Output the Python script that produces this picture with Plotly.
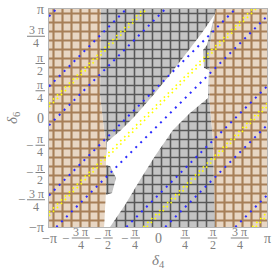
import numpy as np
import plotly.graph_objects as go

PI = np.pi

# ---- regions (radians) ----
brown_left_bx = [-1.643, -1.671, -1.556, -1.499, -1.499, -1.556]
brown_left_by = [PI, 0.663, -0.346, -0.692, -2.075, -PI]
brown_right_bx = [1.671, 1.499, 1.484, 1.585, 1.643]
brown_right_by = [PI, 2.104, 0.519, -0.634, -PI]

white_x = [1.643, 1.259, 0.778, 0.297, -0.135, -0.663, -1.095, -1.470, -1.513,
           -1.383, -1.210, -1.326, -1.513, -1.556, -1.383, -0.951, -0.519, -0.086,
           0.432, 0.922, 1.441, 1.470, 1.326, 1.297, 1.412, 1.643]
white_y = [2.997, 2.441, 1.816, 1.190, 0.663, 0.058, -0.375, -0.692, -1.354,
           -1.383, -1.729, -2.161, -2.219, -PI, -PI, -2.507, -1.787, -1.095,
           -0.346, 0.144, 0.576, 1.383, 1.441, 1.960, 2.104, 2.997]

# contour lines  delta6 = delta4 + c
blue_c = [-5.37, -3.35, -2.23, -0.21, 0.91, 2.93, 4.05, 6.07]
yellow_c = [-5.91, -2.77, 0.37, 3.51]

# ---- ticks ----
tick_vals = [-PI, -3*PI/4, -PI/2, -PI/4, 0, PI/4, PI/2, 3*PI/4, PI]
tick_sign = ["−", "−", "−", "−", "", "", "", "", ""]
tick_num = ["π", "3 π", "π", "π", "0", "π", "π", "3 π", "π"]
tick_den = ["", "4", "2", "4", "", "4", "2", "4", ""]

TXT = "#808080"
FONT = "Liberation Serif"

fig = go.Figure()

brown_pat = dict(shape="+", bgcolor="#e8d6c3", fgcolor="#8c5a2a", fgopacity=0.7, size=9, solidity=0.42)
gray_pat = dict(shape="+", bgcolor="#c4c4c4", fgcolor="#2a2a2a", fgopacity=0.7, size=9, solidity=0.32)

# gray middle
gx = brown_left_bx + brown_right_bx[::-1]
gy = brown_left_by + brown_right_by[::-1]
fig.add_trace(go.Scatter(x=gx, y=gy, fill="toself", mode="none", fillcolor="#c4c4c4",
                         fillpattern=gray_pat, hoverinfo="skip", showlegend=False))
# white band
fig.add_trace(go.Scatter(x=white_x, y=white_y, fill="toself", mode="none", fillcolor="white",
                         hoverinfo="skip", showlegend=False))
# brown sides
fig.add_trace(go.Scatter(x=[-PI, -PI] + brown_left_bx, y=[-PI, PI] + brown_left_by, fill="toself",
                         mode="none", fillcolor="#e8d6c3", fillpattern=brown_pat,
                         hoverinfo="skip", showlegend=False))
fig.add_trace(go.Scatter(x=[PI, PI] + brown_right_bx[::-1], y=[PI, -PI] + brown_right_by[::-1],
                         fill="toself", mode="none", fillcolor="#e8d6c3", fillpattern=brown_pat,
                         hoverinfo="skip", showlegend=False))


def seg(c):
    x0 = max(-PI, -PI - c)
    x1 = min(PI, PI - c)
    return [x0, x1], [x0 + c, x1 + c]


for c in yellow_c:
    for d in (-0.05, 0.05):
        xs, ys = seg(c + d)
        fig.add_trace(go.Scatter(x=xs, y=ys, mode="lines",
                                 line=dict(color="#ffff00", width=1.6, dash="1.6px,4px"),
                                 hoverinfo="skip", showlegend=False))
for c in blue_c:
    xs, ys = seg(c)
    fig.add_trace(go.Scatter(x=xs, y=ys, mode="lines",
                             line=dict(color="#2b2bff", width=2, dash="2px,5px"),
                             hoverinfo="skip", showlegend=False))

# ---- tick labels as text ----
def width(s):
    return sum(7.5 if ch in "π" else (2 if ch == " " else 6.5) for ch in s)

annotations = []
shapes = []
FS = 13
for v, sg, nm, dn in zip(tick_vals, tick_sign, tick_num, tick_den):
    px = (v + PI) / (2 * PI)
    if dn == "":
        txt = sg + nm
        annotations.append(dict(x=px, y=0, xref="paper", yref="paper", text=txt, showarrow=False,
                                xanchor="center", yanchor="middle", yshift=-11,
                                font=dict(family=FONT, size=FS + 1, color=TXT)))
        annotations.append(dict(x=0, y=px, xref="paper", yref="paper", text=txt, showarrow=False,
                                xanchor="right", yanchor="middle", xshift=-3,
                                font=dict(family=FONT, size=FS + 1, color=TXT)))
        continue
    fw = max(width(nm), width(dn)) + 2
    wm = 6 if sg else 0
    gap = 3 if sg else 0
    tot = wm + gap + fw
    # x axis
    left = -tot / 2
    fc = left + wm + gap + fw / 2
    if sg:
        annotations.append(dict(x=px, y=0, xref="paper", yref="paper", text=sg, showarrow=False,
                                xanchor="center", yanchor="middle", xshift=left + wm / 2, yshift=-11,
                                font=dict(family=FONT, size=FS, color=TXT)))
    annotations.append(dict(x=px, y=0, xref="paper", yref="paper", text=nm, showarrow=False,
                            xanchor="center", yanchor="middle", xshift=fc, yshift=-5,
                            font=dict(family=FONT, size=FS - 1, color=TXT)))
    annotations.append(dict(x=px, y=0, xref="paper", yref="paper", text=dn, showarrow=False,
                            xanchor="center", yanchor="middle", xshift=fc, yshift=-18,
                            font=dict(family=FONT, size=FS - 1, color=TXT)))
    shapes.append(dict(type="line", xref="paper", yref="paper", xsizemode="pixel", ysizemode="pixel",
                       xanchor=px, yanchor=0, x0=fc - fw / 2, x1=fc + fw / 2, y0=-11, y1=-11,
                       line=dict(color=TXT, width=1)))
    # y axis
    right = -4
    fcy = right - fw / 2
    if sg:
        annotations.append(dict(x=0, y=px, xref="paper", yref="paper", text=sg, showarrow=False,
                                xanchor="center", yanchor="middle", xshift=right - fw - gap - wm / 2,
                                font=dict(family=FONT, size=FS, color=TXT)))
    annotations.append(dict(x=0, y=px, xref="paper", yref="paper", text=nm, showarrow=False,
                            xanchor="center", yanchor="middle", xshift=fcy, yshift=6,
                            font=dict(family=FONT, size=FS - 1, color=TXT)))
    annotations.append(dict(x=0, y=px, xref="paper", yref="paper", text=dn, showarrow=False,
                            xanchor="center", yanchor="middle", xshift=fcy, yshift=-7,
                            font=dict(family=FONT, size=FS - 1, color=TXT)))
    shapes.append(dict(type="line", xref="paper", yref="paper", xsizemode="pixel", ysizemode="pixel",
                       xanchor=0, yanchor=px, x0=right - fw, x1=right, y0=0, y1=0,
                       line=dict(color=TXT, width=1)))

annotations.append(dict(x=0.5, y=0, xref="paper", yref="paper", text="<i>δ</i><sub>4</sub>",
                        showarrow=False, xanchor="center", yanchor="middle", yshift=-34,
                        font=dict(family=FONT, size=15, color=TXT)))
annotations.append(dict(x=0, y=0.5, xref="paper", yref="paper", text="<i>δ</i><sub>6</sub>",
                        showarrow=False, xanchor="center", yanchor="middle", xshift=-36, textangle=-90,
                        font=dict(family=FONT, size=15, color=TXT)))

axis = dict(range=[-PI, PI], showgrid=False, zeroline=False, showticklabels=False, ticks="",
            showline=True, mirror=True, linecolor="#b4b4b4", linewidth=1)
fig.update_layout(width=273, height=273, margin=dict(l=49, r=6, t=9, b=46),
                  paper_bgcolor="white", plot_bgcolor="white",
                  xaxis=axis, yaxis=axis, annotations=annotations, shapes=shapes)

fig.write_html("out.html", config={"displayModeBar": False},
               post_script="document.body.style.margin='0';document.body.style.overflow='hidden';")
